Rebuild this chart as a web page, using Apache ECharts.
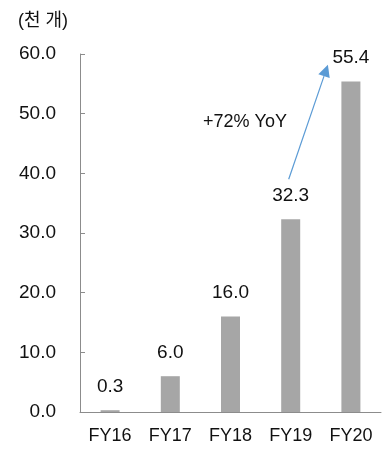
<!DOCTYPE html>
<html>
<head>
<meta charset="utf-8">
<script src="https://cdn.jsdelivr.net/npm/echarts@6/dist/echarts.min.js"></script>
<style>
  html, body { margin: 0; padding: 0; background: #fff; }
  #chart { width: 389px; height: 449px; }
</style>
</head>
<body>
<div id="chart"></div>
<script>
// Fiscal years and volumes (thousand units)
const categories = ['FY16', 'FY17', 'FY18', 'FY19', 'FY20'];
const volumes = [0.3, 6.0, 16.0, 32.3, 55.4];
const yTicks = { min: 0, max: 60, interval: 10 };
const unitLabel = '(천 개)';
const growthLabel = '+72% YoY';

const FONT = '"Liberation Sans", Arial, "Noto Sans CJK KR", sans-serif';
const TEXT = '#111';

const chart = echarts.init(document.getElementById('chart'), null, { renderer: 'canvas' });

chart.setOption({
  animation: false,
  grid: { left: 80, right: 8, top: 54, bottom: 37, containLabel: false },
  xAxis: {
    type: 'category',
    data: categories,
    axisLine: { lineStyle: { color: '#8c8c8c', width: 1 } },
    axisTick: { inside: true, length: 5, lineStyle: { color: '#8c8c8c' } },
    axisLabel: { color: TEXT, fontSize: 18, fontFamily: FONT, margin: 15 }
  },
  yAxis: {
    type: 'value',
    min: yTicks.min, max: yTicks.max, interval: yTicks.interval,
    axisLine: { show: true, lineStyle: { color: '#8c8c8c', width: 1 } },
    axisTick: { show: true, inside: true, length: 5, lineStyle: { color: '#8c8c8c' } },
    splitLine: { show: false },
    axisLabel: {
      color: TEXT, fontSize: 19, fontFamily: FONT, margin: 24,
      formatter: v => v.toFixed(1)
    }
  },
  series: [{
    type: 'bar',
    data: volumes,
    barWidth: 19,
    itemStyle: { color: '#a6a6a6' },
    label: {
      show: true, position: 'top', distance: 14,
      color: TEXT, fontSize: 19, fontFamily: FONT,
      formatter: p => p.value.toFixed(1)
    }
  }]
});

// Unit caption and growth annotation arrow
const from = chart.convertToPixel({ seriesIndex: 0 }, [3, 39]);
const to = chart.convertToPixel({ seriesIndex: 0 }, [4, 58.2]);
const x1 = from[0] - 2, y1 = from[1];
const x2 = to[0] - 23, y2 = to[1];
const ang = Math.atan2(y2 - y1, x2 - x1);
const headLen = 12, headHalf = 6;
const bx = x2 - headLen * Math.cos(ang), by = y2 - headLen * Math.sin(ang);
const px = -Math.sin(ang) * headHalf, py = Math.cos(ang) * headHalf;
const ARROW = '#5b9bd5';

chart.setOption({
  graphic: [
    {
      type: 'text', left: 18, top: 12,
      style: { text: unitLabel, fontSize: 18, fontFamily: FONT, fill: TEXT }
    },
    {
      type: 'line',
      shape: { x1: x1, y1: y1, x2: bx, y2: by },
      style: { stroke: ARROW, lineWidth: 1.2 }
    },
    {
      type: 'polygon',
      shape: { points: [[x2, y2], [bx + px, by + py], [bx - px, by - py]] },
      style: { fill: ARROW }
    },
    {
      type: 'text', x: 245, y: 122,
      style: {
        text: growthLabel, fontSize: 18, fontFamily: FONT, fill: TEXT,
        align: 'center', verticalAlign: 'middle'
      }
    }
  ]
});
</script>
</body>
</html>
